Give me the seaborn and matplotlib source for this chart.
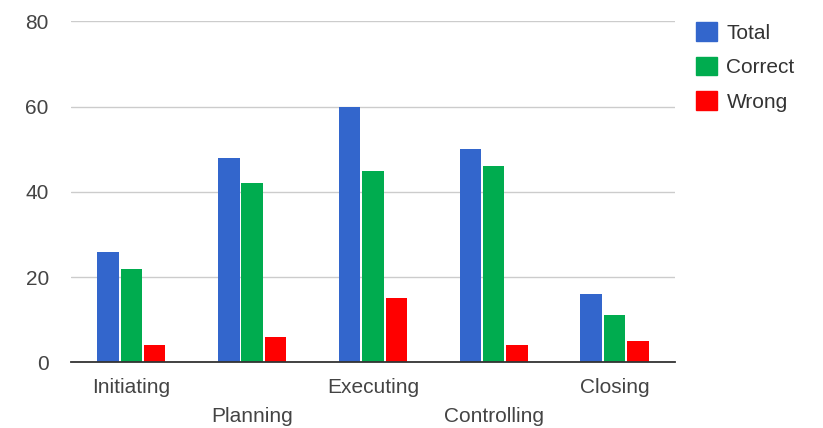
import matplotlib
matplotlib.use("Agg")
import matplotlib.pyplot as plt
import seaborn as sns
import pandas as pd

categories = ["Initiating", "Planning", "Executing", "Controlling", "Closing"]
total = [26, 48, 60, 50, 16]
correct = [22, 42, 45, 46, 11]
wrong = [4, 6, 15, 4, 5]
series_names = ["Total", "Correct", "Wrong"]
palette = ["#3366CC", "#00AC4F", "#FF0000"]
yticks = [0, 20, 40, 60, 80]

rows = []
for name, vals in zip(series_names, [total, correct, wrong]):
    for cat, v in zip(categories, vals):
        rows.append({"phase": cat, "series": name, "value": v})
df = pd.DataFrame(rows)

sns.set_style("white")
plt.rcParams['font.family'] = ['Liberation Sans', 'DejaVu Sans']

fig = plt.figure(figsize=(8.23, 4.28), dpi=100)
ax = fig.add_axes([0.0863, 0.1535, 0.7337, 0.7965])

sns.barplot(data=df, x="phase", y="value", hue="series", order=categories,
            hue_order=series_names, palette=palette, width=0.58, gap=0.08,
            saturation=1, edgecolor="none", ax=ax, zorder=3)

ax.set_ylim(0, 80)
ax.set_yticks(yticks)
ax.set_xlim(-0.5, 4.5)
ax.grid(axis="y", color="#cccccc", linewidth=1, zorder=0)
ax.set_axisbelow(True)
for s in ["top", "right", "left"]:
    ax.spines[s].set_visible(False)
ax.spines["bottom"].set_color("#333333")
ax.spines["bottom"].set_linewidth(1.3)
ax.spines["bottom"].set_zorder(4)
ax.set_xlabel("")
ax.set_ylabel("")
ax.tick_params(axis="both", length=0, labelsize=15, labelcolor="#444444")
ax.tick_params(axis="y", pad=16)

# staggered category labels
for i, tick in enumerate(ax.xaxis.get_major_ticks()):
    tick.set_pad(11 if i % 2 == 0 else 32)

ax.legend_.remove()
handles = [plt.Rectangle((0, 0), 1, 1, color=c) for c in palette]
fig.legend(handles, series_names, loc="upper left",
           bbox_to_anchor=(0.846, 0.948), frameon=False, fontsize=15,
           handlelength=1.0, handleheight=1.0, handletextpad=0.45,
           labelspacing=0.67, borderpad=0, borderaxespad=0,
           labelcolor="#333333")

fig.savefig("out.png", dpi=100)
